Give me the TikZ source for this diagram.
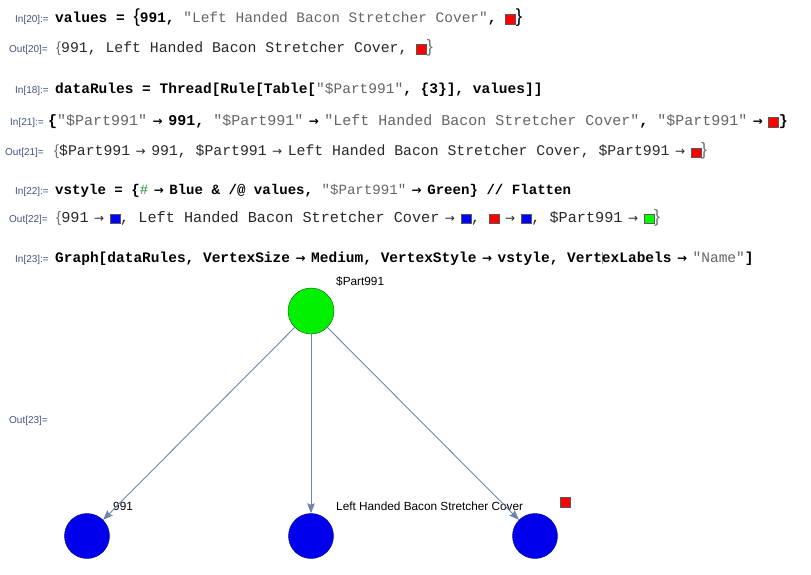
\documentclass[tikz,border=0pt]{standalone}
\usepackage{amsmath}
\usepackage{fontspec}
\setmainfont{Liberation Sans}
\setsansfont{Liberation Sans}
\setmonofont{Liberation Mono}
\newfontfamily\symfont{DejaVu Sans}
\usetikzlibrary{positioning,arrows.meta}

\definecolor{lblblue}{RGB}{70,80,130}
\definecolor{strgray}{RGB}{100,100,100}
\definecolor{outgray}{RGB}{40,40,40}
\definecolor{edgeblue}{RGB}{110,132,170}
\definecolor{slotgreen}{RGB}{40,140,60}

\newcommand{\str}[1]{{\mdseries\color{strgray}#1}}
\newcommand{\sqbox}[1]{{\setlength{\fboxsep}{0pt}\setlength{\fboxrule}{0.5pt}%
    \raisebox{-1.5pt}{\fcolorbox{black!65}{#1}{\rule{0pt}{9.5pt}\rule{9.5pt}{0pt}}}}}
\newcommand{\ra}{\hspace{5.5pt}{\symfont\fontsize{12}{12}\selectfont →}\hspace{5.5pt}}
\newcommand{\obr}{{\color{black!55}\normalfont\{}}
\newcommand{\cbr}{{\color{black!55}\normalfont\fontsize{18}{18}\selectfont\}}}
\newcommand{\bigobr}{{\normalfont\fontsize{19}{19}\selectfont\{}}
\newcommand{\bigcbr}{{\normalfont\fontsize{19}{19}\selectfont\}}}

\tikzset{
    inlbl/.style={anchor=base east, inner sep=0pt, text=lblblue,
        font=\sffamily\fontsize{10}{10}\selectfont},
    incode/.style={anchor=base west, inner sep=0pt,
        font=\ttfamily\bfseries\fontsize{14.5}{16}\selectfont},
    outcode/.style={anchor=base west, inner sep=0pt, text=outgray,
        font=\ttfamily\fontsize{14.8}{16}\selectfont},
    vgreen/.style={circle, minimum size=46pt, inner sep=0pt,
        fill={rgb,255:red,0;green,240;blue,0}, draw=green!35!black, thin},
    vblue/.style={circle, minimum size=45pt, inner sep=0pt,
        fill={rgb,255:red,0;green,0;blue,235}, draw=blue!45!black, thin},
    vlabel/.style={anchor=base west, inner sep=0pt,
        font=\sffamily\fontsize{11.8}{12}\selectfont},
    edge/.style={draw=edgeblue, line width=0.9pt,
        -{Stealth[length=10pt,width=7.5pt,inset=1.5pt]}}
}

\begin{document}
\begin{tikzpicture}[x=1pt, y=-1pt]
% notebook cells, then the graph that In[23] draws
\useasboundingbox (0,0) rectangle (811,575);

\node[inlbl] (in20) at (49,23) {In[20]:=};
\node[incode] (c20) at (55,23)
    {values = \bigobr991, \str{"Left Handed Bacon Stretcher Cover"}, \sqbox{red}\bigcbr};
\node[inlbl] (out20) at (48,53) {Out[20]=};
\node[outcode] (o20) at (56,53)
    {\obr991, Left Handed Bacon Stretcher Cover, \sqbox{red}\cbr};

\node[inlbl] (in18) at (49,94) {In[18]:=};
\node[incode] (c18) at (55,94)
    {dataRules = Thread[Rule[Table[\str{"\$Part991"}, \{3\}], values]]};

\node[inlbl] (in21) at (44,126) {In[21]:=};
\node[incode, font=\ttfamily\bfseries\fontsize{15}{16}\selectfont] (c21) at (48,126)
    {\{\str{"\$Part991"}\ra991, \str{"\$Part991"}\ra\str{"Left Handed Bacon Stretcher Cover"}, \str{"\$Part991"}\ra\sqbox{red}\}};
\node[inlbl] (out21) at (44,156) {Out[21]=};
\node[outcode] (o21) at (54,156)
    {\obr\$Part991\ra991, \$Part991\ra Left Handed Bacon Stretcher Cover, \$Part991\ra\sqbox{red}\cbr};

\node[inlbl] (in22) at (49,194) {In[22]:=};
\node[incode, font=\ttfamily\bfseries\fontsize{14.1}{16}\selectfont] (c22) at (55,194)
    {vstyle = \{{\mdseries\color{slotgreen}\#}\ra Blue \& /@ values, \str{"\$Part991"}\ra Green\} // Flatten};
\node[inlbl] (out22) at (48,222) {Out[22]=};
\node[outcode, font=\ttfamily\fontsize{15.2}{16}\selectfont] (o22) at (56,222)
    {\obr991\ra\sqbox{blue}, Left Handed Bacon Stretcher Cover\ra\sqbox{blue}, \sqbox{red}\ra\sqbox{blue}, \$Part991\ra\sqbox{green}\cbr};

\node[inlbl] (in23) at (49,262) {In[23]:=};
\node[incode] (c23) at (55,262)
    {Graph[dataRules, VertexSize\ra Medium, VertexStyle\ra vstyle, Vert\rlap{\color{black!40}\rule[-2pt]{0.6pt}{12pt}}exLabels\ra\str{"Name"}]};
\node[inlbl] (out23) at (48,423) {Out[23]=};

% vertices
\node[vgreen] (part) at (311,311) {};
\node[vblue] (n991) at (87,536) {};
\node[vblue] (ncover) at (311,536) {};
\node[vblue] (nred) at (535,536) {};

\node[vlabel] (lpart) at ([shift={(25,-26)}]part.center) {\$Part991};
\node[vlabel] (l991) at ([shift={(26,-26)}]n991.center) {991};
\node[vlabel] (lcover) at ([shift={(25,-26)}]ncover.center) {Left Handed Bacon Stretcher Cover};
\node[anchor=south west, inner sep=0pt] (lred) at ([shift={(25,-28)}]nred.center) {\sqbox{red}};

% edges
\draw[edge] (part) -- (n991);
\draw[edge] (part) -- (ncover);
\draw[edge] (part) -- (nred);

\end{tikzpicture}
\end{document}
